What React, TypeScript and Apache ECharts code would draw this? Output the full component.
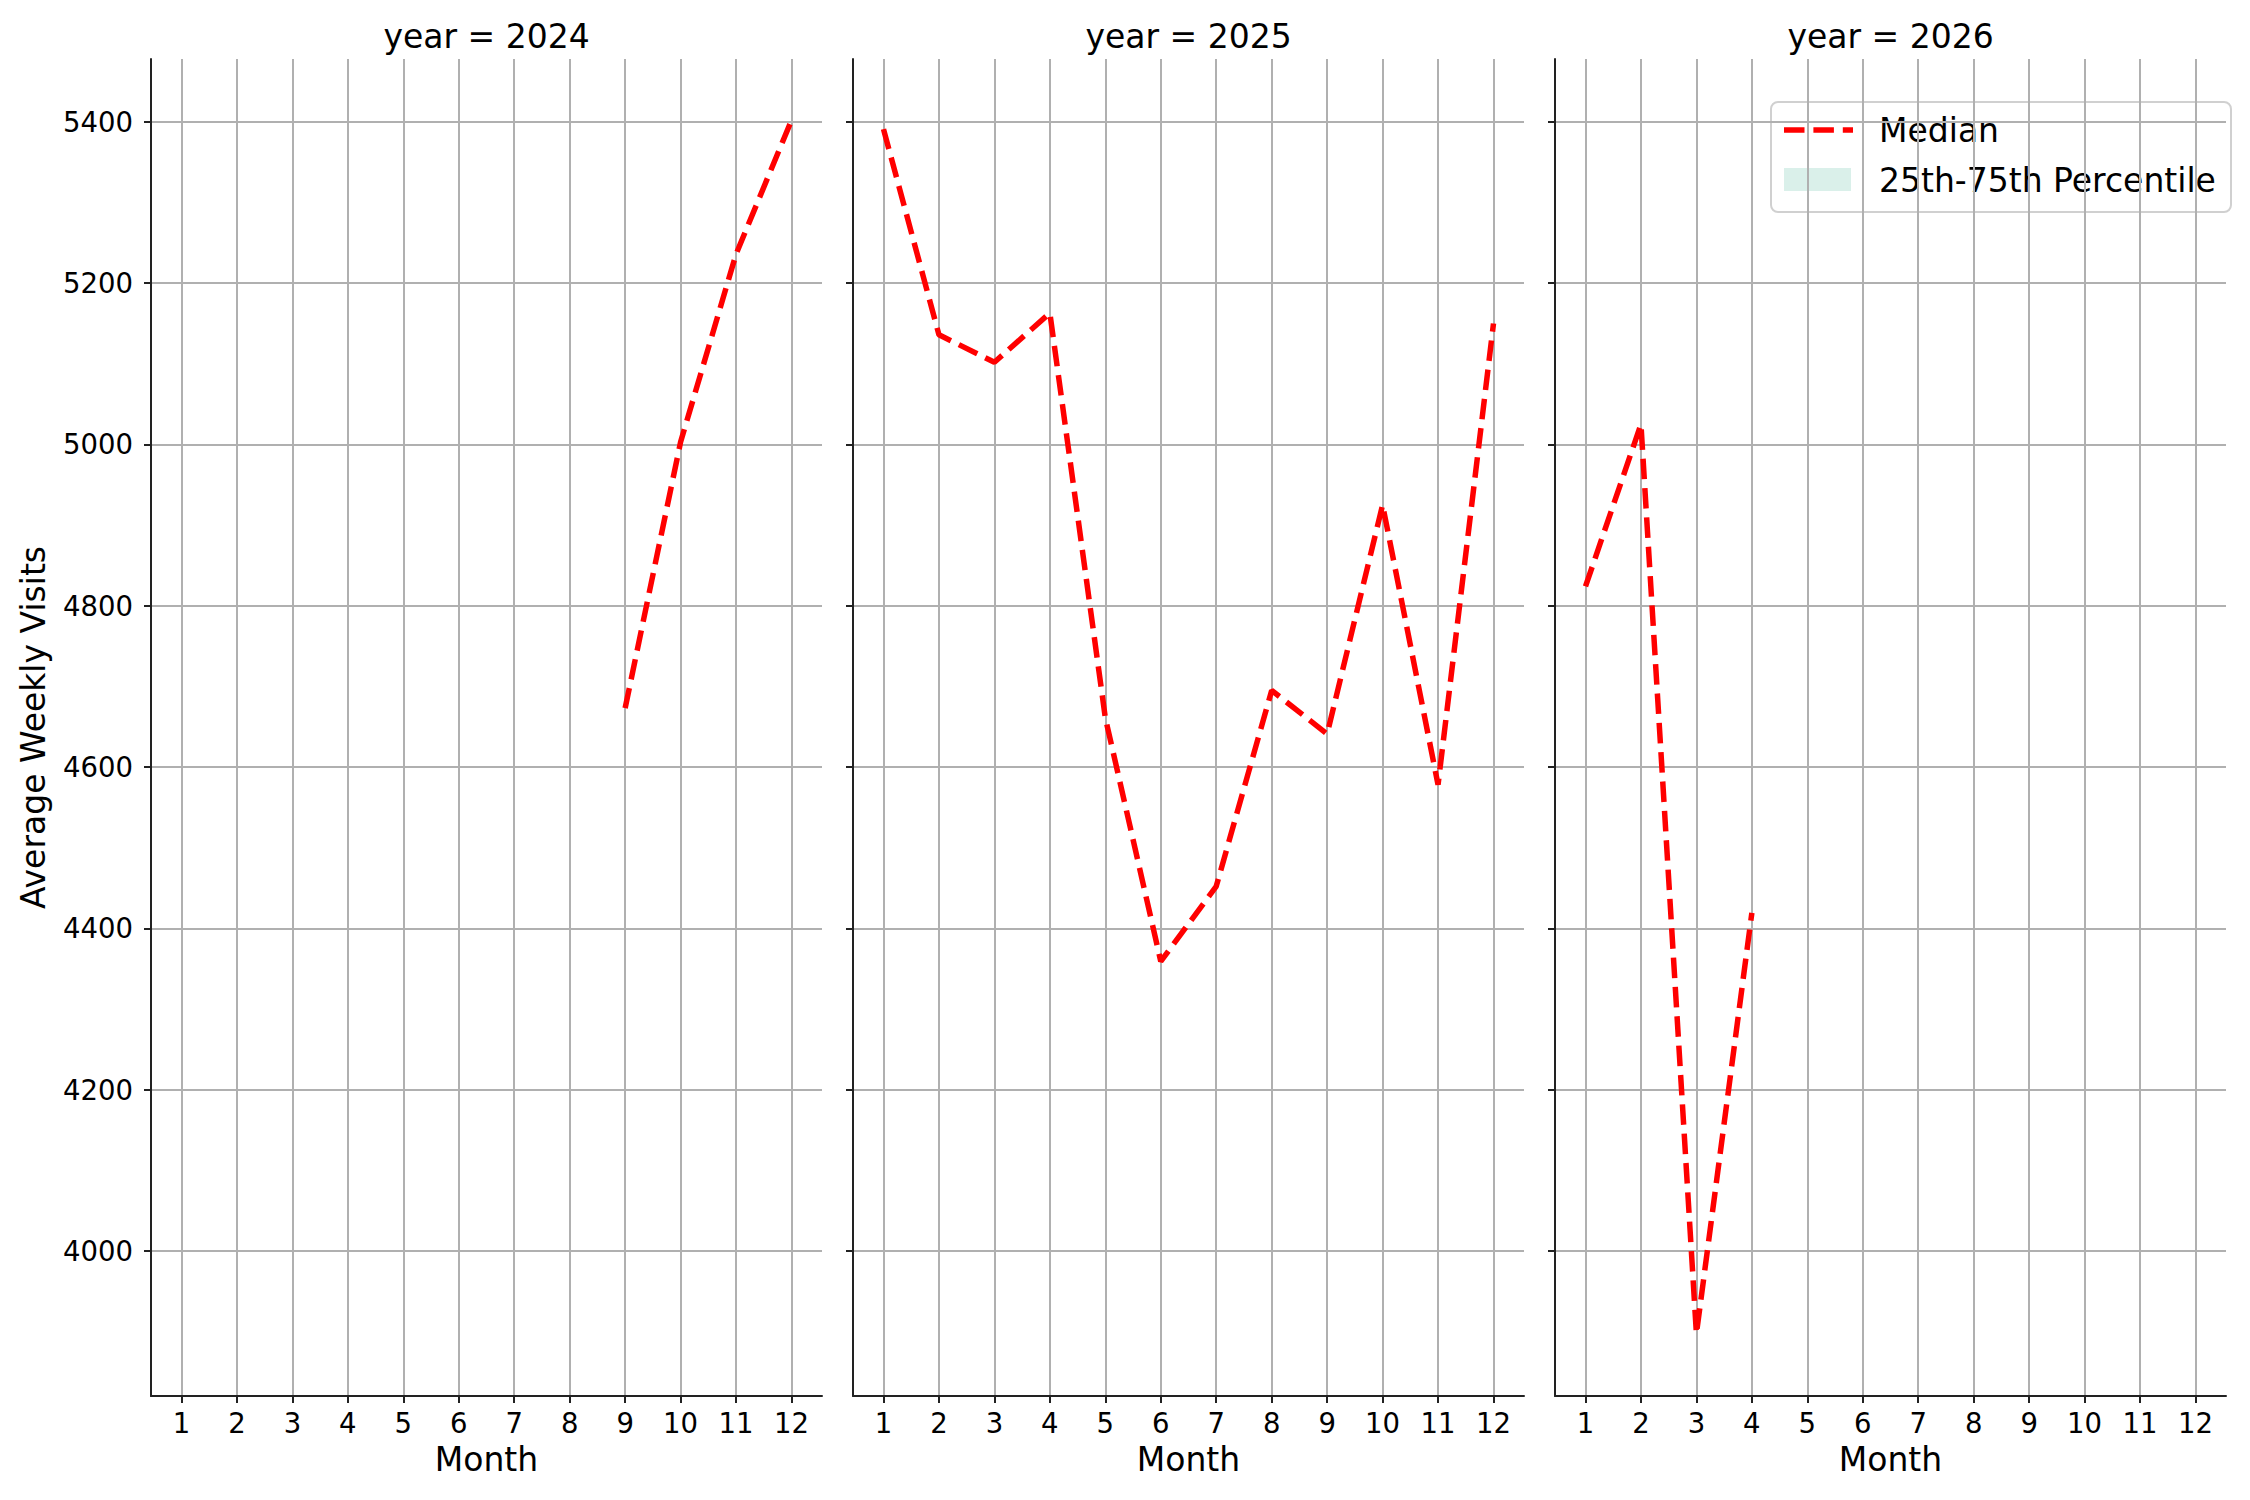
import { useEffect, useRef } from 'react';
import * as echarts from 'echarts';

// facet years and months
const years = [2024, 2025, 2026];
const months = [1, 2, 3, 4, 5, 6, 7, 8, 9, 10, 11, 12];
const yTicks = [4000, 4200, 4400, 4600, 4800, 5000, 5200, 5400];

// median weekly visits per month, one list per year
const months2024 = [9, 10, 11, 12];
const median2024 = [4673, 5003, 5236, 5402];
const months2025 = [1, 2, 3, 4, 5, 6, 7, 8, 9, 10, 11, 12];
const median2025 = [5391, 5136, 5102, 5163, 4661, 4359, 4452, 4695, 4641, 4925, 4578, 5150];
const months2026 = [1, 2, 3, 4];
const median2026 = [4824, 5025, 3897, 4419];

const FONT = 'DejaVu Sans';
const panelLefts = [151, 853, 1555];
const panelWidth = 671;
const panelTop = 59;
const panelHeight = 1337;

const App = () => {
  const chartRef = useRef<HTMLDivElement>(null);

  useEffect(() => {
    if (!chartRef.current) return;
    document.body.style.margin = '0';

    const chart = echarts.init(chartRef.current, undefined, { renderer: 'svg' });

    const seriesData = [
      months2024.map((m, i) => [m, median2024[i]]),
      months2025.map((m, i) => [m, median2025[i]]),
      months2026.map((m, i) => [m, median2026[i]]),
    ];

    const axisLine = { show: true, onZero: false, lineStyle: { color: '#222', width: 2 } };
    const tickStyle = { color: '#222', width: 2 };
    const gridLine = { show: true, lineStyle: { color: '#b0b0b0', width: 2 } };

    const option: echarts.EChartsOption = {
      animation: false,
      backgroundColor: '#fff',
      textStyle: { fontFamily: FONT },
      grid: panelLefts.map(left => ({
        left,
        top: panelTop,
        width: panelWidth,
        height: panelHeight,
        containLabel: false
      })),
      xAxis: years.map((_, i) => ({
        type: 'value',
        gridIndex: i,
        min: 0.45,
        max: 12.55,
        name: 'Month',
        nameLocation: 'middle',
        nameGap: 47,
        nameTextStyle: { fontSize: 33, color: '#000', fontFamily: FONT },
        axisLine,
        axisTick: { show: true, length: 7, lineStyle: tickStyle, customValues: months },
        axisLabel: { customValues: months, fontSize: 27.5, color: '#000', margin: 13, fontFamily: FONT },
        splitLine: gridLine
      })),
      yAxis: years.map((_, i) => ({
        type: 'value',
        gridIndex: i,
        min: 3820,
        max: 5478,
        name: i === 0 ? 'Average Weekly Visits' : '',
        nameLocation: 'middle',
        nameGap: 101,
        nameRotate: 90,
        nameTextStyle: { fontSize: 33, color: '#000', fontFamily: FONT },
        axisLine,
        axisTick: { show: true, length: 7, lineStyle: tickStyle, customValues: yTicks },
        axisLabel: {
          show: i === 0,
          customValues: yTicks,
          formatter: (v: number) => String(v),
          fontSize: 27.5,
          color: '#000',
          margin: 18,
          fontFamily: FONT
        },
        splitLine: gridLine
      })),
      series: years.map((y, i) => ({
        name: 'Median',
        type: 'line',
        xAxisIndex: i,
        yAxisIndex: i,
        data: seriesData[i],
        symbol: 'none',
        lineStyle: { color: '#ff0000', width: 5.5, type: [20.5, 8.9], cap: 'butt' },
        z: 3
      })),
      graphic: [
        ...years.map((y, i) => ({
          type: 'text' as const,
          x: panelLefts[i] + panelWidth / 2,
          y: 36,
          style: {
            text: `year = ${y}`,
            fontSize: 33,
            fontFamily: FONT,
            fill: '#000',
            align: 'center' as const,
            verticalAlign: 'middle' as const
          }
        })),
        // legend box (top right of last facet)
        {
          type: 'group',
          z: 100,
          children: [
            {
              type: 'rect',
              shape: { x: 1771, y: 102, width: 460, height: 110, r: 7 },
              style: { fill: 'rgba(255,255,255,0.8)', stroke: '#d0d0d0', lineWidth: 2 }
            },
            {
              type: 'line',
              shape: { x1: 1784, y1: 130, x2: 1853, y2: 130 },
              style: { stroke: '#ff0000', lineWidth: 5.5, lineDash: [20.5, 8.9] }
            },
            {
              type: 'text',
              x: 1879,
              y: 130,
              style: { text: 'Median', fontSize: 33, fontFamily: FONT, fill: '#000', verticalAlign: 'middle' }
            },
            {
              type: 'rect',
              shape: { x: 1784, y: 168, width: 67, height: 23 },
              style: { fill: '#daf0ea' }
            },
            {
              type: 'text',
              x: 1879,
              y: 180,
              style: { text: '25th-75th Percentile', fontSize: 33, fontFamily: FONT, fill: '#000', verticalAlign: 'middle' }
            }
          ]
        }
      ]
    };

    chart.setOption(option);

    const handleResize = () => chart.resize();
    window.addEventListener('resize', handleResize);

    return () => {
      window.removeEventListener('resize', handleResize);
      chart.dispose();
    };
  }, []);

  return <div ref={chartRef} style={{ width: 2250, height: 1500 }} />;
};

export default App;
